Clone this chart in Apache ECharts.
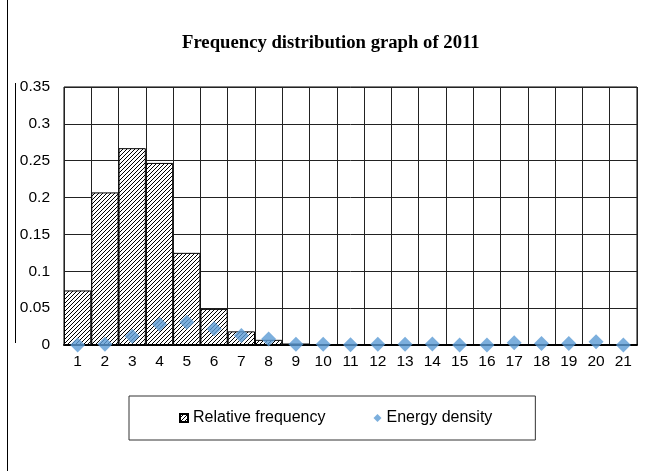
<!DOCTYPE html>
<html>
<head>
<meta charset="utf-8">
<script src="https://cdn.jsdelivr.net/npm/echarts@6/dist/echarts.min.js"></script>
<style>
html,body{margin:0;padding:0;background:#fff;}
#chart{width:649px;height:471px;}
</style>
</head>
<body>
<div id="chart"></div>
<script>
var categories = ['1','2','3','4','5','6','7','8','9','10','11','12','13','14','15','16','17','18','19','20','21'];
var relativeFrequency = [0.074, 0.207, 0.267, 0.247, 0.125, 0.049, 0.0185, 0.007, 0.002, 0.001, 0.0005, 0.0005, 0.0005, 0.0005, 0.0003, 0.0003, 0.0003, 0.0003, 0.0003, 0.0003, 0.0003];
var energyDensity = [0, 0.001, 0.012, 0.028, 0.031, 0.022, 0.013, 0.008, 0.001, 0.001, 0.0005, 0.001, 0.001, 0.0015, 0, 0, 0.003, 0.002, 0.002, 0.0045, 0];
var yMin = 0, yMax = 0.35, yStep = 0.05;

function hatch() {
  var c = document.createElement('canvas');
  c.width = 4; c.height = 4;
  var g = c.getContext('2d');
  g.fillStyle = '#fff';
  g.fillRect(0, 0, 4, 4);
  g.strokeStyle = '#000';
  g.lineWidth = 1;
  g.beginPath();
  g.moveTo(-1, 5); g.lineTo(5, -1);
  g.moveTo(-1, 1); g.lineTo(1, -1);
  g.moveTo(3, 5); g.lineTo(5, 3);
  g.stroke();
  return c;
}
var pattern = { image: hatch(), repeat: 'repeat' };

var chart = echarts.init(document.getElementById('chart'), null, { renderer: 'canvas' });
chart.setOption({
  animation: false,
  backgroundColor: '#fff',
  title: {
    text: 'Frequency distribution graph of 2011',
    left: 177, top: 29,
    textStyle: { fontFamily: 'Liberation Serif', fontWeight: 'bold', fontSize: 18.7, color: '#000' }
  },
  grid: { left: 64, top: 87, right: 12, bottom: 126, show: true, borderColor: '#000', borderWidth: 1, backgroundColor: 'transparent' },
  legend: {
    left: 129, top: 396,
    borderColor: '#333', borderWidth: 1,
    padding: [14, 43, 14, 50],
    itemGap: 48, itemWidth: 8, itemHeight: 8,
    textStyle: { fontFamily: 'Liberation Sans', fontSize: 16, color: '#000' },
    data: [
      { name: 'Relative frequency', icon: 'rect' },
      { name: 'Energy density', icon: 'diamond' }
    ]
  },
  xAxis: {
    type: 'category',
    data: categories,
    boundaryGap: true,
    axisLine: { lineStyle: { color: '#000', width: 2 } },
    axisTick: { show: false },
    axisLabel: { margin: 9, fontFamily: 'Liberation Sans', fontSize: 15.5, color: '#000' },
    splitLine: { show: true, interval: 0, lineStyle: { color: '#222', width: 1 } }
  },
  yAxis: {
    type: 'value',
    min: yMin, max: yMax, interval: yStep,
    axisLine: { show: false },
    axisTick: { show: false },
    axisLabel: { margin: 14, fontFamily: 'Liberation Sans', fontSize: 15.5, color: '#000' },
    splitLine: { show: true, lineStyle: { color: '#222', width: 1 } }
  },
  series: [
    {
      name: 'Relative frequency',
      type: 'bar',
      data: relativeFrequency,
      barCategoryGap: '0%',
      itemStyle: { color: pattern, borderColor: '#000', borderWidth: 1 },
      z: 2
    },
    {
      name: 'Energy density',
      type: 'scatter',
      data: energyDensity,
      symbol: 'diamond',
      symbolSize: 15,
      itemStyle: { color: '#5B9BD5' },
      z: 5
    }
  ],
  graphic: [
    { type: 'line', shape: { x1: 7.5, y1: 0, x2: 7.5, y2: 471 }, style: { stroke: '#000', lineWidth: 1 } },
    { type: 'line', shape: { x1: 15.5, y1: 83, x2: 15.5, y2: 343 }, style: { stroke: '#000', lineWidth: 1 } }
  ]
});
</script>
</body>
</html>
